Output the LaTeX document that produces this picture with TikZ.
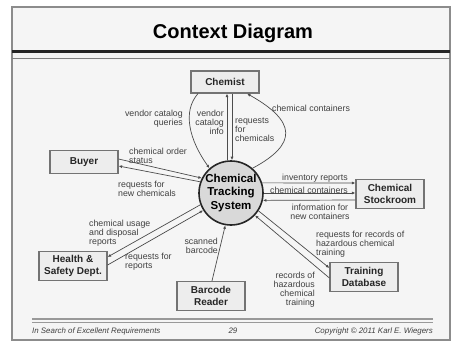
\documentclass[tikz,border=0pt]{standalone}
\usepackage{fontspec}
\setmainfont{Liberation Sans}
\usetikzlibrary{arrows.meta}

\tikzset{
  entity/.style={draw=black!55, line width=1.2pt, fill=black!7, minimum width=68pt,
    minimum height=29pt, inner sep=1pt, align=center, text=black!85,
    font=\fontsize{10}{11.5}\selectfont\bfseries},
  proc/.style={circle, draw=black!85, line width=1.6pt, fill=black!15, minimum size=64pt,
    inner sep=0pt, align=center, font=\fontsize{11.5}{13.5}\selectfont\bfseries},
  flow/.style={draw=black!70, line width=0.7pt, -{Latex[length=3.5pt,width=3pt]}},
  flowlabel/.style={inner sep=0pt, text=black!75, font=\fontsize{8.8}{9}\selectfont},
  footer/.style={inner sep=0pt, text=black!75, font=\fontsize{7.9}{9}\selectfont\itshape},
}

\begin{document}
\begin{tikzpicture}[x=1pt,y=-1pt]
\useasboundingbox (0,0) rectangle (451,341);

% Slide frame and title
\draw[black!45, line width=1.5pt, fill=black!4] (12,7) rectangle (450,340);
\node (title) at (233,33) {\fontsize{20}{22}\selectfont\bfseries Context Diagram};
\draw[black!85, line width=3pt] (12,51) -- (450,51);
\draw[black!50, line width=1pt] (12,58) -- (450,58);

% External entities
\node[entity, minimum height=22pt] (chemist) at (225,82) {Chemist};
\node[entity, minimum height=23pt] (buyer) at (84,162) {Buyer};
\node[entity] (stockroom) at (390,194) {Chemical\\Stockroom};
\node[entity] (safety) at (73,266) {Health \&\\Safety Dept.};
\node[entity] (barcode) at (211,296) {Barcode\\Reader};
\node[entity] (training) at (364,277) {Training\\Database};

% The system
\node[proc] (cts) at (231,193) {Chemical\\Tracking\\System};

% Chemist flows
\draw[flow] ([xshift=-4pt]cts.north) -- ([xshift=2pt]chemist.south);
\draw[flow] ([xshift=7pt]chemist.south) -- ([xshift=1pt]cts.north);
\draw[flow] ([xshift=-27pt]chemist.south) .. controls +(-16,18) and +(-20,-28) .. (cts.131);
\draw[flow] (cts.49) .. controls +(45,-24) and +(50,28) .. ([xshift=22pt]chemist.south);
\node[flowlabel, anchor=east, align=right] (lblqueries) at (183,119) {vendor catalog\\queries};
\node[flowlabel, anchor=east, align=right] (lblinfo) at (224,122) {vendor\\catalog\\info};
\node[flowlabel, anchor=west, align=left] (lblrequests) at (235,130) {requests\\for\\chemicals};
\node[flowlabel, anchor=west] (lblcontainers) at (272,108) {chemical containers};

% Buyer flows
\draw[flow] ([yshift=3pt]buyer.east) -- (cts.153);
\draw[flow] (cts.160) -- ([yshift=-4pt]buyer.east);
\node[flowlabel, anchor=west, align=left] (lblstatus) at (129,156) {chemical order\\status};
\node[flowlabel, anchor=west, align=left] (lblnew) at (118,189) {requests for\\new chemicals};

% Stockroom flows
\draw[flow] (cts.18) -- ([yshift=11pt]stockroom.west);
\draw[flow] (cts.0) -- ([yshift=1pt]stockroom.west);
\draw[flow] ([yshift=-6pt]stockroom.west) -- (cts.-13);
\node[flowlabel] (lblinventory) at (315,178) {inventory reports};
\node[flowlabel, anchor=base] (lblstock) at (309,193.5) {chemical containers};
\node[flowlabel, align=center] (lblnewcont) at (320,212) {information for\\new containers};

% Health and safety flows
\draw[flow] (cts.201) -- ([yshift=9pt]safety.east);
\draw[flow] ([yshift=1pt]safety.east) -- (cts.212);
\node[flowlabel, anchor=west, align=left] (lblusage) at (89,233) {chemical usage\\and disposal\\reports};
\node[flowlabel, anchor=west, align=left] (lblreports) at (125,262) {requests for\\reports};

% Barcode reader flow
\draw[flow] ([xshift=1pt]barcode.north) -- (cts.260);
\node[flowlabel, anchor=east, align=right] (lblscan) at (218,246) {scanned\\barcode};

% Training database flows
\draw[flow] (cts.-33) -- ([yshift=9pt]training.west);
\draw[flow] ([yshift=-1pt]training.west) -- (cts.-43);
\node[flowlabel, anchor=west, align=left] (lblrecreq) at (316,244) {requests for records of\\hazardous chemical\\training};
\node[flowlabel, anchor=east, align=right] (lblrecords) at (315,290) {records of\\hazardous\\chemical\\training};

% Footer
\draw[black!40, line width=1.2pt] (32,319) -- (433,319);
\draw[black!40, line width=1.2pt] (32,322.5) -- (433,322.5);
\node[footer, anchor=west] (footleft) at (32,331) {In Search of Excellent Requirements};
\node[footer] (footpage) at (233,331) {29};
\node[footer, anchor=east] (footright) at (433,331) {Copyright © 2011 Karl E. Wiegers};

\end{tikzpicture}
\end{document}
